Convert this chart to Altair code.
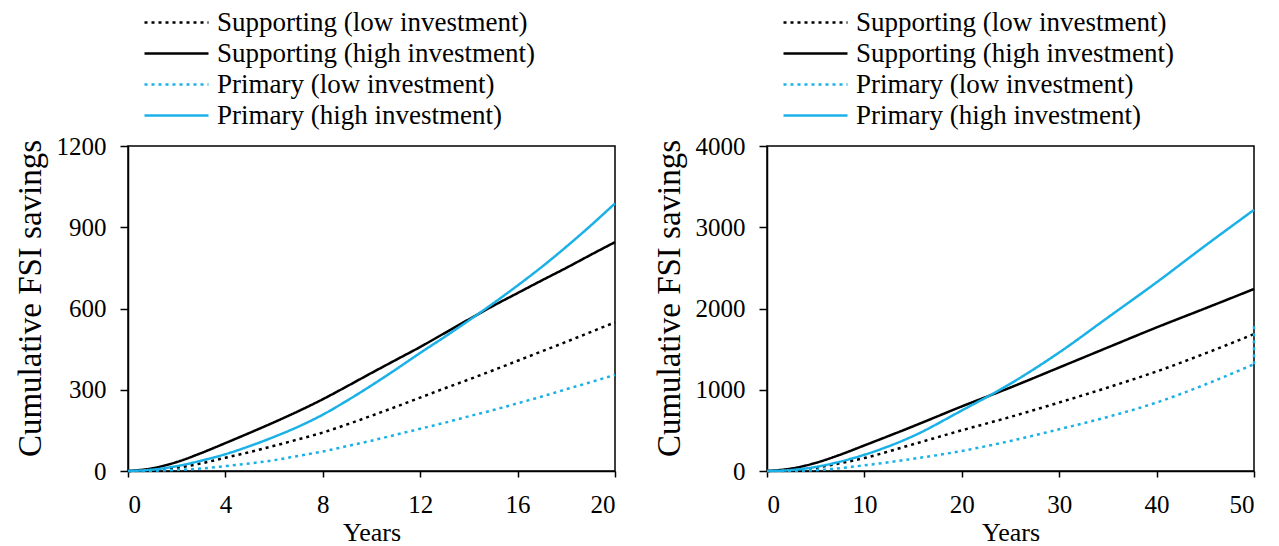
import altair as alt
import pandas as pd

SERIES = [
    "Supporting (low investment)",
    "Supporting (high investment)",
    "Primary (low investment)",
    "Primary (high investment)",
]
COLORS = ["#000000", "#000000", "#1BB1E7", "#1BB1E7"]
DASHES = [[3, 4], [1, 0], [3, 4], [1, 0]]

# Left panel: 20-year horizon
years_a = list(range(0, 21))
sup_low_a = [0, 3, 12, 28, 49, 70, 93, 117, 142, 172, 204, 237, 271, 305, 338, 372, 407, 442, 477, 513, 549]
sup_high_a = [0, 10, 33, 66, 103, 141, 180, 221, 265, 313, 362, 410, 458, 509, 560, 610, 657, 704, 750, 798, 845]
pri_low_a = [0, 1, 4, 9, 18, 28, 40, 56, 72, 92, 112, 134, 156, 178, 202, 225, 250, 275, 302, 328, 355]
pri_high_a = [0, 5, 18, 38, 62, 92, 126, 164, 208, 260, 316, 375, 436, 495, 556, 619, 685, 754, 828, 906, 988]

# Right panel: 50-year horizon
years_b = [0, 2.5, 5, 7.5, 10, 15, 20, 25, 30, 35, 40, 45, 50]
sup_low_b = [0, 10, 40, 95, 160, 329, 501, 666, 843, 1028, 1225, 1447, 1685]
sup_high_b = [0, 30, 100, 200, 315, 550, 795, 1028, 1274, 1521, 1767, 2002, 2240]
pri_low_b = [0, 2, 10, 35, 70, 150, 247, 370, 514, 666, 843, 1065, 1315]
pri_high_b = [0, 12, 50, 115, 200, 430, 745, 1075, 1459, 1890, 2322, 2774, 3214]
spike_years = [50, 50]
spike_vals = [1315, 1830]

FONT = "Liberation Serif"


def make_df(years, cols):
    rows = []
    for name, vals in zip(SERIES, cols):
        for x, v in zip(years, vals):
            rows.append({"Years": x, "value": v, "series": name})
    return pd.DataFrame(rows)


df_a = make_df(years_a, [sup_low_a, sup_high_a, pri_low_a, pri_high_a])
df_b = make_df(years_b, [sup_low_b, sup_high_b, pri_low_b, pri_high_b])
df_spike = pd.DataFrame({"Years": spike_years, "value": spike_vals})

legend = alt.Legend(
    title=None,
    orient="none",
    legendX=62,
    legendY=-137,
    symbolType="M-11.8,0H1",
    symbolSize=100,
    symbolStrokeWidth=2.5,
    labelFont=FONT,
    labelFontSize=27,
    labelColor="black",
    labelOffset=0,
    labelLimit=500,
    rowPadding=3,
)


def panel(df, xmax, xstep, ymax, ystep):
    x = alt.X(
        "Years:Q",
        scale=alt.Scale(domain=[0, xmax], nice=False, zero=True),
        axis=alt.Axis(values=list(range(0, xmax + 1, xstep)), title="Years", format="d"),
    )
    y = alt.Y(
        "value:Q",
        scale=alt.Scale(domain=[0, ymax], nice=False),
        axis=alt.Axis(values=list(range(0, ymax + 1, ystep)), title="Cumulative FSI savings",
                      format="d", titleY=152),
    )
    return alt.Chart(df).mark_line(strokeWidth=2.5, interpolate="monotone").encode(
        x=x,
        y=y,
        color=alt.Color("series:N", scale=alt.Scale(domain=SERIES, range=COLORS), sort=SERIES, legend=legend),
        strokeDash=alt.StrokeDash("series:N", scale=alt.Scale(domain=SERIES, range=DASHES), sort=SERIES, legend=legend),
    ).properties(width=487, height=325)


left = panel(df_a, 20, 4, 1200, 300)
right_main = panel(df_b, 50, 10, 4000, 1000)
spike = alt.Chart(df_spike).mark_line(strokeWidth=2.5, strokeDash=[3, 4], color="#1BB1E7").encode(
    x="Years:Q", y="value:Q"
)
right = alt.layer(right_main, spike)

chart = alt.hconcat(left, right, spacing=31).resolve_scale(
    color="independent", strokeDash="independent"
).resolve_legend(color="independent", strokeDash="independent").properties(
    padding={"top": 0, "left": 5, "right": 5, "bottom": 5}
).configure_view(
    stroke="black", strokeWidth=1.5
).configure_axis(
    grid=False,
    domainColor="black",
    domainWidth=1.5,
    tickColor="black",
    tickWidth=1.5,
    labelFont=FONT,
    labelFontSize=25,
    labelColor="black",
    titleFont=FONT,
    titleColor="black",
    titleFontWeight="normal",
).configure_axisY(
    tickSize=8, labelPadding=14, titlePadding=9, titleFontSize=33
).configure_axisX(
    tickSize=6, labelPadding=15, titlePadding=2, titleFontSize=26
)

chart.save("out.html", embed_options={"renderer": "svg", "actions": False})
